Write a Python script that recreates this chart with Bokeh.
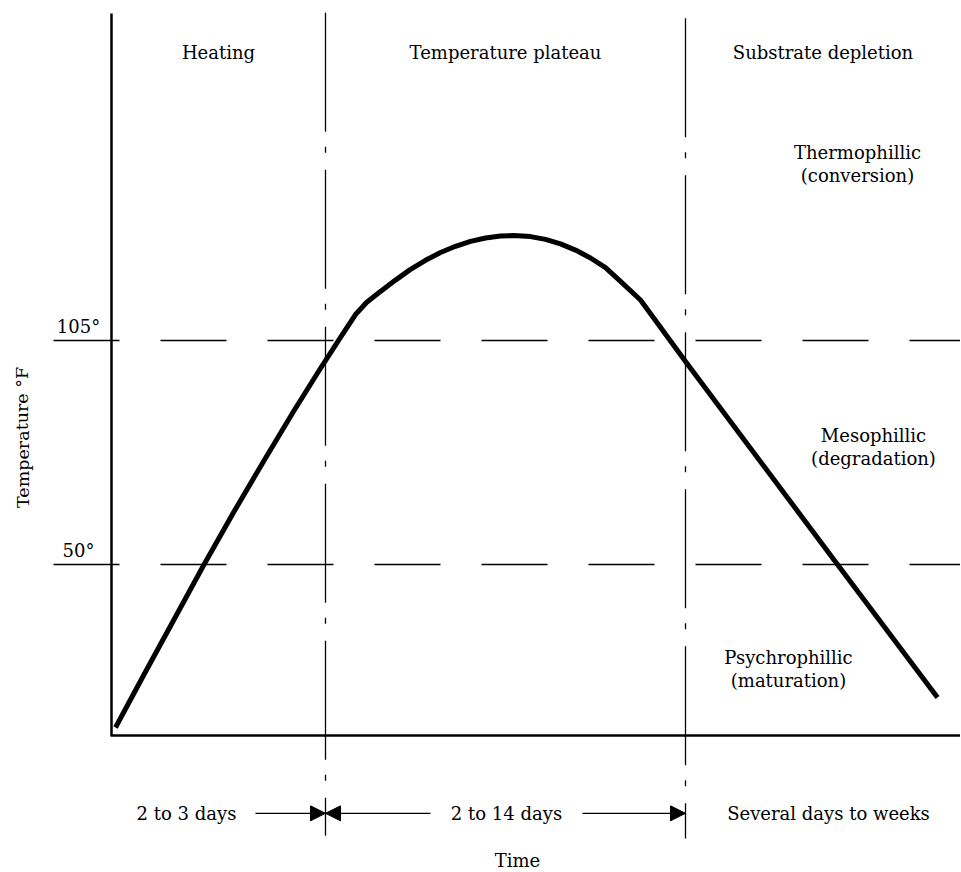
from bokeh.plotting import figure
from bokeh.models import Range1d, Arrow, NormalHead
from bokeh.core.properties import value
from bokeh.embed import file_html
from bokeh.resources import INLINE

# ---------------- data ----------------
# time (arbitrary units) and temperature (°F) of the composting curve
curve_time = [0.4, 3.2, 6.2, 9.2, 12.2, 15.2, 18.2, 20.7, 22.9, 24.4, 25.5,
              26.7, 28.4, 29.9, 31.4, 32.9, 34.4, 35.9, 37.4, 38.9, 40.2,
              41.9, 43.4, 44.9, 46.4, 47.9, 49.4, 50.9, 52.9,
              57.4, 72.6, 82.6]
curve_temp = [9.98, 22.75, 36.25, 49.75, 62.77, 75.29, 87.57, 97.39, 105.74, 111.38, 114.33,
              116.66, 119.83, 122.46, 124.69, 126.61, 128.13, 129.33, 130.17, 130.66, 130.78,
              130.51, 129.82, 128.72, 127.20, 125.26, 122.88, 119.54, 114.94,
              99.84, 50.0, 17.34]

phase_bounds = [0.0, 21.4, 57.4, 84.9]          # axis, heating end, plateau end, right edge
phase_names = ["Heating", "Temperature plateau", "Substrate depletion"]
durations = ["2 to 3 days", "2 to 14 days", "Several days to weeks"]
threshold_temps = [105, 50]
threshold_labels = ["105°", "50°"]
zone_lines = [["Thermophillic", "(conversion)"],
              ["Mesophillic", "(degradation)"],
              ["Psychrophillic", "(maturation)"]]

FONT = value("DejaVu Serif")
FS = value("18px")

p = figure(width=960, height=872,
           x_range=Range1d(-11.1, 84.9), y_range=Range1d(-25.625, 188.48),
           output_backend="svg", toolbar_location=None,
           x_axis_location=None, y_axis_location=None,
           min_border=0, outline_line_color=None)
p.grid.visible = False
p.background_fill_color = "white"
p.border_fill_color = "white"

axis_base = 8.0

# threshold dashed lines
for t in threshold_temps:
    p.line([-5.8, 85.0], [t, t], line_color="black", line_width=1.3, line_dash="66 41")

# phase dividers (dash-dot), drawn top to bottom
p.line([phase_bounds[1], phase_bounds[1]], [185.5, -16.6], line_color="black",
       line_width=1.3, line_dash="119 15 6 17")
p.line([phase_bounds[2], phase_bounds[2]], [184.1, -17.3], line_color="black",
       line_width=1.3, line_dash="119 15 6 17")

# axes
p.line([0.0, 0.0], [185.3, axis_base], line_color="black", line_width=2.5)
p.line([-0.1, 85.0], [axis_base, axis_base], line_color="black", line_width=2.5)

# curve
p.line(curve_time, curve_temp, line_color="black", line_width=5, line_join="round")

# phase names centred in their phases
phase_mid = [(phase_bounds[i] + phase_bounds[i + 1]) / 2 for i in range(3)]
p.text(x=phase_mid, y=[175.7] * 3, text=phase_names, text_font=FONT, text_font_size=FS,
       text_align="center", text_baseline="middle", text_color="black")

# threshold labels
p.text(x=[-3.3, -3.3], y=[t + 3.4 for t in threshold_temps], text=threshold_labels,
       text_font=FONT, text_font_size=FS, text_align="center", text_baseline="middle")

# zone labels
zone_x = [74.6, 76.2, 67.7]
zone_y = [151.2, 81.7, 27.2]
zx, zy, zt = [], [], []
for (l1, l2), x, y in zip(zone_lines, zone_x, zone_y):
    zx += [x, x]
    zy += [y, y - 5.7]
    zt += [l1, l2]
p.text(x=zx, y=zy, text=zt, text_font=FONT, text_font_size=FS,
       text_align="center", text_baseline="middle")

# durations
p.text(x=[7.5, 39.5, 71.7], y=[-11.1] * 3, text=durations, text_font=FONT, text_font_size=FS,
       text_align="center", text_baseline="middle")

# arrows
for xs, xe in [(14.4, phase_bounds[1]), (31.9, phase_bounds[1]), (47.1, phase_bounds[2])]:
    p.add_layout(Arrow(end=NormalHead(size=15, fill_color="black", line_color="black", line_width=1),
                       x_start=xs, y_start=-11.1, x_end=xe, y_end=-11.1,
                       line_color="black", line_width=1.3))

# axis titles
p.text(x=[40.6], y=[-22.68], text=["Time"], text_font=FONT, text_font_size=FS,
       text_align="center", text_baseline="middle")
p.text(x=[-8.9], y=[81.2], text=["Temperature °F"], text_font=FONT, text_font_size=value("17.5px"),
       text_align="center", text_baseline="middle", angle=1.5708)

open("out.html", "w").write(file_html(p, INLINE))
